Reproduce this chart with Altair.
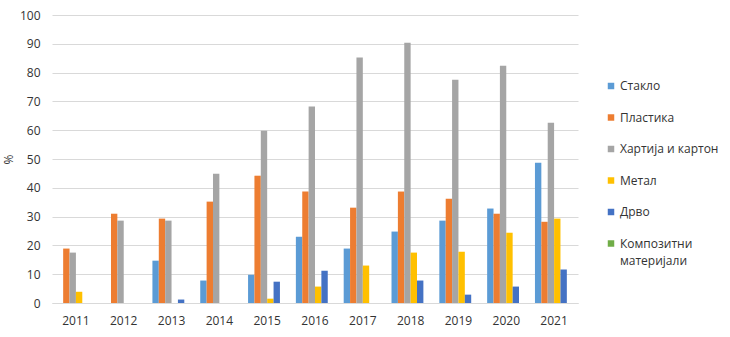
import altair as alt
import pandas as pd

years = ["2011", "2012", "2013", "2014", "2015", "2016", "2017", "2018", "2019", "2020", "2021"]
series = ["Стакло", "Пластика", "Хартија и картон", "Метал", "Дрво", "Композитни материјали"]
colors = ["#5B9BD5", "#ED7D31", "#A5A5A5", "#FFC000", "#4472C4", "#70AD47"]

staklo = [0, 0, 14.7, 7.8, 9.8, 23.0, 18.9, 24.8, 28.6, 32.8, 48.7]
plastika = [18.9, 31.0, 29.3, 35.2, 44.2, 38.7, 33.1, 38.7, 36.2, 31.0, 28.2]
hartija = [17.5, 28.6, 28.6, 44.9, 59.8, 68.2, 85.2, 90.4, 77.5, 82.4, 62.6]
metal = [3.9, 0, 0, 0, 1.5, 5.7, 13.0, 17.5, 17.8, 24.4, 29.3]
drvo = [0, 0, 1.2, 0, 7.4, 11.2, 0, 7.8, 2.9, 5.7, 11.6]
kompozit = [0, 0, 0, 0, 0, 0, 0, 0, 0, 0, 0]

all_values = [staklo, plastika, hartija, metal, drvo, kompozit]
rows = []
for s, vals in zip(series, all_values):
    for y, v in zip(years, vals):
        rows.append({"year": y, "series": s, "value": v})
df = pd.DataFrame(rows)

FONT = "Open Sans"
TXT = "#333333"

chart = alt.Chart(df).mark_bar().encode(
    x=alt.X("year:N", sort=years,
            scale=alt.Scale(paddingInner=0.2, paddingOuter=0.1),
            axis=alt.Axis(title=None, labelAngle=0, ticks=False, grid=False,
                          domainColor="#D9D9D9", labelPadding=12)),
    xOffset=alt.XOffset("series:N", sort=series,
                        scale=alt.Scale(paddingInner=0, paddingOuter=0)),
    y=alt.Y("value:Q", scale=alt.Scale(domain=[0, 100], nice=False),
            axis=alt.Axis(values=list(range(0, 101, 10)), title="%", ticks=False,
                          domain=False, gridColor="#D9D9D9", labelPadding=12,
                          titlePadding=4, titleFontWeight="normal")),
    color=alt.Color("series:N", sort=series,
                    scale=alt.Scale(domain=series, range=colors),
                    legend=alt.Legend(title=None, orient="none", legendX=553, legendY=65,
                                      symbolType="square", symbolSize=42, symbolStrokeWidth=0,
                                      rowPadding=19.5, padding=0, labelOffset=3,
                                      labelExpr="datum.label == 'Композитни материјали' ? ['Композитни', 'материјали'] : datum.label")),
).properties(
    width=526, height=288,
    padding={"left": 52, "top": 15, "right": 152, "bottom": 34},
    autosize="none",
).configure_view(stroke=None).configure_axis(
    labelFont=FONT, titleFont=FONT, labelFontSize=12, titleFontSize=12,
    labelColor=TXT, titleColor=TXT,
).configure_legend(
    labelFont=FONT, labelFontSize=12, labelColor=TXT,
)
chart.config.style = {"guide-label": {"lineHeight": 17}}

chart.save("out.html", embed_options={"renderer": "svg", "actions": False})
